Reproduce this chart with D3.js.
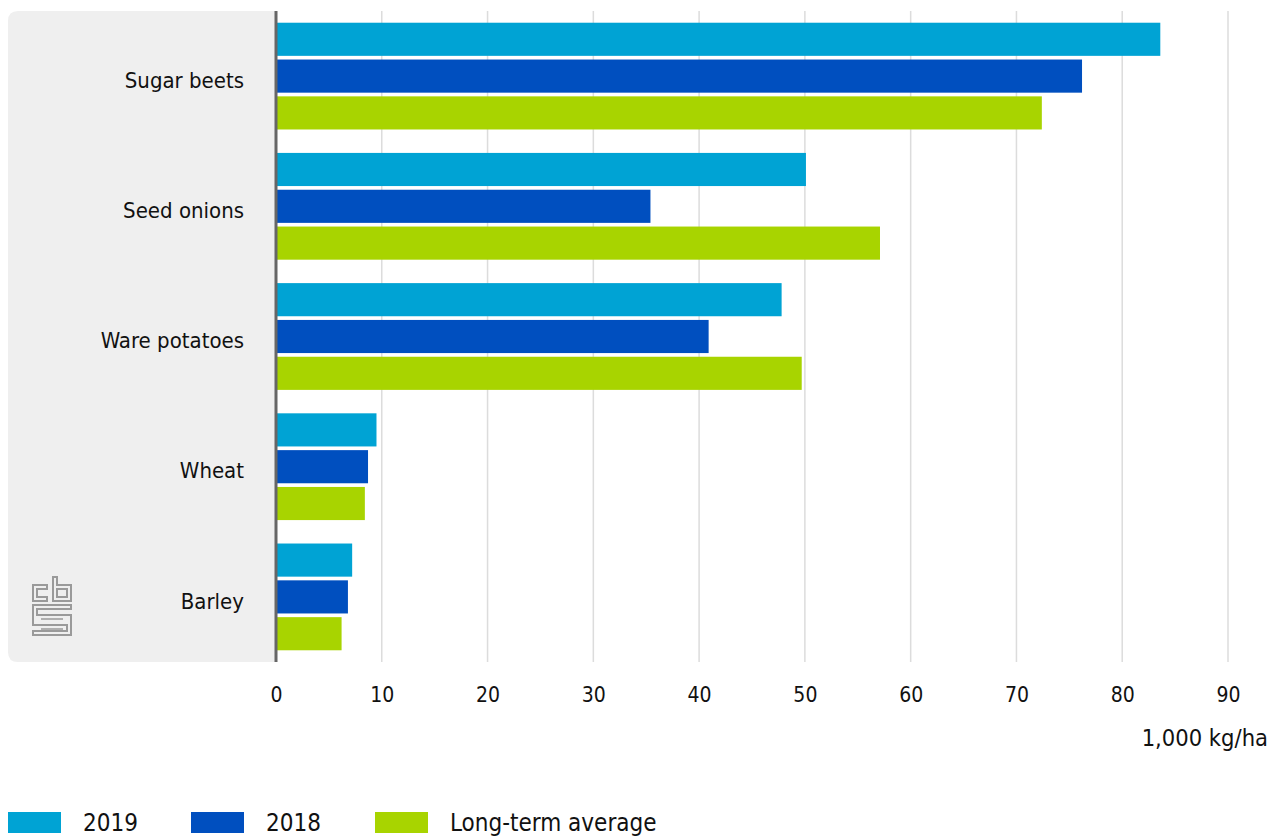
<!DOCTYPE html>
<html>
<head>
<meta charset="utf-8">
<script src="https://cdn.jsdelivr.net/npm/d3@7"></script>
<style>
  body { margin: 0; background: #fff; }
  svg text { font-family: "DejaVu Sans Condensed", "DejaVu Sans", sans-serif; fill: #111; }
</style>
</head>
<body>
<svg id="chart" width="1287" height="836"></svg>
<script>
var crops = ["Sugar beets", "Seed onions", "Ware potatoes", "Wheat", "Barley"];
var seriesNames = ["2019", "2018", "Long-term average"];
var values2019 = [83.6, 50.1, 47.8, 9.5, 7.2];
var values2018 = [76.2, 35.4, 40.9, 8.7, 6.8];
var valuesAvg = [72.4, 57.1, 49.7, 8.4, 6.2];
var xTicks = [0, 10, 20, 30, 40, 50, 60, 70, 80, 90];
var colors = ["#00a3d4", "#004fbf", "#a8d400"];

var svg = d3.select("#chart");
var plotLeft = 276, plotRight = 1228, plotTop = 11, plotBottom = 662;

var x = d3.scaleLinear().domain([0, 90]).range([plotLeft, plotRight]);
var y = d3.scaleBand().domain(crops).range([plotTop, plotBottom])
    .paddingInner(0.18).paddingOuter(0.09);
var yInner = d3.scaleBand().domain(seriesNames).range([0, y.bandwidth()])
    .paddingInner(0.1);
var color = d3.scaleOrdinal().domain(seriesNames).range(colors);

var rows = crops.map(function (c, i) {
    return { crop: c, vals: [values2019[i], values2018[i], valuesAvg[i]] };
});

// grey label panel, rounded on the left
var r = 10, px = 8;
svg.append("path")
    .attr("d", "M" + plotLeft + "," + plotTop + " L" + (px + r) + "," + plotTop +
        " Q" + px + "," + plotTop + " " + px + "," + (plotTop + r) +
        " L" + px + "," + (plotBottom - r) +
        " Q" + px + "," + plotBottom + " " + (px + r) + "," + plotBottom +
        " L" + plotLeft + "," + plotBottom + " Z")
    .attr("fill", "#efefef");

// grid
svg.append("g").selectAll("line")
    .data(xTicks.slice(1))
  .enter().append("line")
    .attr("x1", function (d) { return x(d); })
    .attr("x2", function (d) { return x(d); })
    .attr("y1", plotTop)
    .attr("y2", plotBottom)
    .attr("stroke", "#dcdcdc")
    .attr("stroke-width", 1.5);

// bars
var group = svg.append("g").selectAll(".grp")
    .data(rows)
  .enter().append("g")
    .attr("class", "grp")
    .attr("transform", function (d) { return "translate(0," + y(d.crop) + ")"; });

group.selectAll("rect")
    .data(function (d) {
        return d.vals.map(function (v, i) { return { key: seriesNames[i], value: v }; });
    })
  .enter().append("rect")
    .attr("x", x(0))
    .attr("y", function (d) { return yInner(d.key); })
    .attr("width", function (d) { return x(d.value) - x(0); })
    .attr("height", yInner.bandwidth())
    .attr("fill", function (d) { return color(d.key); });

// category labels
svg.append("g").selectAll("text")
    .data(crops)
  .enter().append("text")
    .attr("x", 244)
    .attr("y", function (d) { return y(d) + y.bandwidth() / 2 + 4; })
    .attr("dy", "0.35em")
    .attr("text-anchor", "end")
    .style("font-size", "22px")
    .text(function (d) { return d; });

// zero axis line
svg.append("line")
    .attr("x1", x(0)).attr("x2", x(0))
    .attr("y1", plotTop).attr("y2", plotBottom)
    .attr("stroke", "#666").attr("stroke-width", 3);

// x tick labels
var xAxis = d3.axisBottom(x).tickValues(xTicks).tickSize(0).tickPadding(0)
    .tickFormat(d3.format("d"));
var gx = svg.append("g").attr("transform", "translate(0,687)").call(xAxis);
gx.select(".domain").remove();
gx.selectAll("text")
    .style("font-size", "21px")
    .style("font-family", "DejaVu Sans Condensed, DejaVu Sans, sans-serif")
    .attr("fill", "#111");

svg.append("text")
    .attr("x", 1268)
    .attr("y", 746)
    .attr("text-anchor", "end")
    .style("font-size", "23.5px")
    .text("1,000 kg/ha");

// cbs logo (outline)
var logo = svg.append("g")
    .attr("transform", "translate(33,577)")
    .attr("fill", "none")
    .attr("stroke", "#9a9a9a")
    .attr("stroke-width", 2);
logo.append("path").attr("d", "M0,8 H14 V12 H4 V20 H14 V24 H0 Z");
logo.append("path").attr("d", "M20,0 H24 V8 H38 V24 H20 Z M24,12 V20 H34 V12 Z");
logo.append("path").attr("d", "M0,28 H38 V32 H4 V38 H38 V58 H0 V54 H34 V48 H0 Z");
logo.append("path").attr("d", "M8,42 H30 M8,52 H30").attr("stroke-width", 1.5);

// legend
var legendX = [8, 191, 375];
var legend = svg.append("g").selectAll("g")
    .data(seriesNames)
  .enter().append("g")
    .attr("transform", function (d, i) { return "translate(" + legendX[i] + ",812)"; });
legend.append("rect")
    .attr("width", 53).attr("height", 21)
    .attr("fill", function (d) { return color(d); });
legend.append("text")
    .attr("x", 75).attr("y", 10.5).attr("dy", "0.35em")
    .style("font-size", "24px")
    .text(function (d) { return d; });
</script>
</body>
</html>
